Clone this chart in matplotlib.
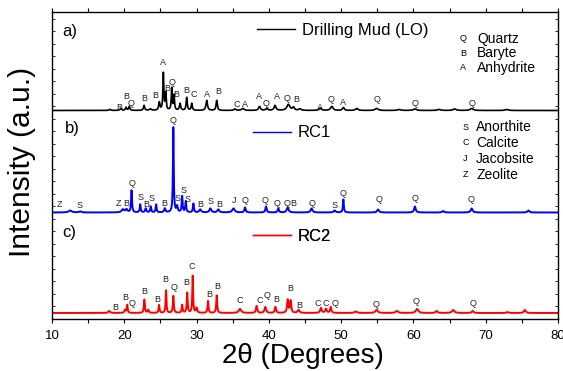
import numpy as np
import matplotlib
matplotlib.use('Agg')
import matplotlib.pyplot as plt
from matplotlib.ticker import MultipleLocator
from matplotlib.lines import Line2D

plt.rcParams['font.family'] = ['Liberation Sans', 'DejaVu Sans']

# peak lists: 2theta (deg), height, FWHM (deg)
mud_pos = [18.0, 19.5, 20.24, 20.69, 22.73, 23.6, 24.84, 25.40, 25.73, 26.56, 26.88, 27.71,
           28.63, 29.33, 31.40, 32.78, 35.3, 36.4, 38.7, 39.7, 40.85, 42.7, 43.4, 44.3,
           47.1, 48.7, 50.3, 52.15, 54.9, 58.0, 60.2, 63.5, 65.7, 68.05, 72.9]
mud_hgt = [1.0, 2.0, 3.0, 4.0, 5.0, 1.5, 8.0, 37.0, 17.0, 22.0, 15.0, 7.0,
           13.0, 7.0, 10.0, 10.0, 1.5, 2.0, 4.0, 2.0, 5.0, 6.0, 3.0, 1.5,
           2.0, 4.0, 3.0, 2.0, 2.0, 1.0, 1.5, 1.0, 1.5, 2.0, 1.0]
mud_wid = [0.3, 0.25, 0.2, 0.2, 0.2, 0.3, 0.2, 0.15, 0.15, 0.15, 0.15, 0.2,
           0.18, 0.18, 0.25, 0.2, 0.3, 0.4, 0.3, 0.3, 0.3, 0.5, 0.3, 0.4,
           0.4, 0.4, 0.3, 0.4, 0.5, 0.5, 0.5, 0.5, 0.5, 0.5, 0.5]

rc1_pos = [12.5, 13.9, 19.8, 20.3, 21.0, 22.2, 22.96, 23.65, 24.4, 25.6, 26.78, 27.3,
           28.0, 28.5, 29.55, 30.5, 31.9, 33.0, 35.1, 36.7, 39.6, 41.3, 42.6, 45.9,
           49.1, 50.3, 55.1, 60.2, 64.1, 68.05, 75.9]
rc1_hgt = [2.0, 1.0, 3.0, 3.0, 22.0, 8.0, 4.0, 6.0, 8.0, 4.0, 85.0, 6.0,
           16.0, 11.0, 9.0, 3.0, 4.0, 3.0, 4.0, 5.0, 6.0, 4.0, 5.0, 4.0,
           2.0, 13.0, 3.0, 6.0, 1.5, 4.0, 2.0]
rc1_wid = [0.5, 0.4, 0.4, 0.3, 0.15, 0.15, 0.2, 0.15, 0.15, 0.2, 0.13, 0.2,
           0.15, 0.15, 0.15, 0.3, 0.3, 0.3, 0.4, 0.2, 0.2, 0.2, 0.3, 0.3,
           0.3, 0.15, 0.3, 0.25, 0.3, 0.3, 0.3]

rc2_pos = [17.9, 20.1, 20.4, 22.77, 23.3, 24.8, 25.77, 26.78, 28.0, 28.7, 29.46, 30.0,
           31.58, 32.78, 36.0, 38.3, 39.5, 40.9, 42.6, 43.0, 44.1, 47.2, 47.9, 48.55,
           52.0, 54.9, 57.7, 60.5, 63.2, 65.5, 68.2, 73.0, 75.4]
rc2_hgt = [2.0, 3.0, 8.0, 13.5, 3.0, 8.0, 23.0, 17.0, 8.0, 20.0, 37.0, 5.0,
           12.0, 17.5, 4.0, 7.0, 6.0, 6.0, 13.0, 12.0, 3.0, 5.0, 4.0, 6.0,
           1.5, 3.0, 2.0, 4.0, 2.0, 3.0, 2.0, 1.0, 3.0]
rc2_wid = [0.3, 0.2, 0.15, 0.15, 0.2, 0.15, 0.13, 0.15, 0.15, 0.15, 0.13, 0.2,
           0.15, 0.15, 0.4, 0.2, 0.25, 0.2, 0.2, 0.2, 0.3, 0.25, 0.25, 0.2,
           0.4, 0.4, 0.4, 0.4, 0.3, 0.4, 0.3, 0.3, 0.3]

# vertical offsets of the stacked patterns
offsets = [208.5, 106.5, 6.0]

# phase letters: (letter, 2theta, height)
mud_labels = [('B', 19.27, 211.7), ('B', 20.24, 222.3), ('Q', 20.97, 215.7), ('B', 22.77, 220),
              ('B', 24.34, 223.3), ('A', 25.40, 256.7), ('B', 25.91, 230), ('Q', 26.64, 236.7),
              ('B', 27.25, 224), ('B', 28.63, 228.3), ('C', 29.55, 224), ('A', 31.48, 224.7),
              ('B', 33.0, 227.3), ('C', 35.55, 214), ('A', 36.70, 214), ('A', 38.63, 222.3),
              ('Q', 39.60, 215.7), ('A', 41.08, 222.3), ('Q', 42.47, 220), ('B', 43.85, 219.7),
              ('A', 47.07, 211.7), ('Q', 48.55, 219.7), ('A', 50.21, 216.3), ('Q', 54.92, 219),
              ('Q', 60.21, 215.7), ('Q', 68.06, 215.7)]
rc1_labels = [('Q', 26.78, 198), ('Z', 11.01, 114.7), ('S', 13.87, 113.7), ('Z', 19.17, 115),
              ('B', 20.24, 115), ('Q', 21.03, 135), ('S', 22.27, 121.3), ('B', 23.0, 114.7),
              ('S', 23.79, 120.7), ('B', 25.53, 115.7), ('S', 27.33, 120), ('S', 28.22, 128),
              ('S', 28.72, 119), ('B', 30.57, 114), ('S', 31.95, 117), ('B', 33.10, 114.7),
              ('J', 35.18, 118.3), ('Q', 36.74, 118.3), ('Q', 39.46, 118.3), ('Q', 41.17, 115.7),
              ('Q', 42.47, 115), ('B', 43.38, 115), ('Q', 45.92, 115.7), ('S', 49.15, 113),
              ('Q', 50.21, 125.7), ('Q', 55.28, 119), ('Q', 60.21, 120.7), ('Q', 67.92, 119)]
rc2_labels = [('B', 18.71, 11.7), ('B', 20.10, 21.7), ('Q', 21.03, 15.7), ('B', 22.77, 27.3),
              ('B', 24.57, 19), ('B', 25.73, 39), ('Q', 26.88, 31.7), ('B', 28.54, 36.3),
              ('C', 29.32, 52.3), ('B', 31.72, 24), ('B', 32.87, 32.3), ('C', 36.01, 18),
              ('C', 38.77, 18), ('Q', 39.78, 23), ('B', 41.08, 19), ('B', 42.92, 30.7),
              ('B', 44.21, 13), ('C', 46.70, 15.7), ('C', 47.90, 15.7), ('Q', 49.15, 15.7),
              ('Q', 54.82, 14), ('Q', 60.35, 17.3), ('Q', 68.20, 15)]

names = ['Drilling Mud (LO)', 'RC1', 'RC2']
colors = ['black', '#0000ff', '#ff0000']
panels = ['a)', 'b)', 'c)']
phases1 = [('Q', 'Quartz'), ('B', 'Baryte'), ('A', 'Anhydrite')]
phases2 = [('S', 'Anorthite'), ('C', 'Calcite'), ('J', 'Jacobsite'), ('Z', 'Zeolite')]

x = np.arange(10, 80.001, 0.02)


def pattern(pos, hgt, wid):
    y = np.zeros_like(x)
    for p, h, w in zip(pos, hgt, wid):
        y += h / (1 + ((x - p) / (w / 2)) ** 2)
    return y


fig = plt.figure(figsize=(5.63, 3.71), dpi=100)
ax = fig.add_axes([0.0924, 0.1402, 0.8988, 0.8275])

peaks = [(mud_pos, mud_hgt, mud_wid), (rc1_pos, rc1_hgt, rc1_wid), (rc2_pos, rc2_hgt, rc2_wid)]
lws = [1.2, 1.4, 1.4]
for (pos, hgt, wid), off, c, lw in zip(peaks, offsets, colors, lws):
    ax.plot(x, pattern(pos, hgt, wid) + off, color=c, lw=lw)

for labs in [mud_labels, rc1_labels, rc2_labels]:
    for s, px, py in labs:
        ax.text(px, py, s, fontsize=6.5, ha='center', va='center', color='#222222')

# trace legends
leg_anchor = [(0.405, 0.941), (0.397, 0.606), (0.397, 0.270)]
for name, c, anc in zip(names, colors, leg_anchor):
    leg = ax.legend(handles=[Line2D([], [], color=c, lw=1.0)], labels=[name],
                    loc='center left', bbox_to_anchor=anc, frameon=False,
                    fontsize=12, handlelength=2.3, handletextpad=0.4,
                    borderpad=0, borderaxespad=0)
    ax.add_artist(leg)

# panel tags
for tag, pos in zip(panels, [(0.020, 0.935), (0.025, 0.619), (0.021, 0.283)]):
    ax.text(pos[0], pos[1], tag, transform=ax.transAxes, fontsize=12, ha='left', va='center')

# phase keys
for i, (s, n) in enumerate(phases1):
    yy = 0.912 - i * 0.047
    ax.text(0.812, yy, s, transform=ax.transAxes, fontsize=6.5, ha='center', va='center')
    ax.text(0.840, yy, n, transform=ax.transAxes, fontsize=10, ha='left', va='center')
for i, (s, n) in enumerate(phases2):
    yy = 0.625 - i * 0.0515
    ax.text(0.817, yy, s, transform=ax.transAxes, fontsize=6.5, ha='center', va='center')
    ax.text(0.838, yy, n, transform=ax.transAxes, fontsize=10, ha='left', va='center')

ax.set_xlim(10, 80)
ax.set_ylim(0, 307)
ax.xaxis.set_major_locator(MultipleLocator(10))
ax.xaxis.set_minor_locator(MultipleLocator(5))
ax.yaxis.set_major_locator(MultipleLocator(12.5))
ax.tick_params(axis='x', which='both', direction='out', length=3, width=0.8,
               labelsize=9.5, pad=5)
ax.tick_params(axis='x', which='both', top=True, labeltop=False)
ax.tick_params(axis='y', which='both', direction='in', length=2.5, width=0.6,
               left=True, right=True, labelleft=False)
for sp in ax.spines.values():
    sp.set_linewidth(1.0)

fig.text(22 / 563, 1 - 162 / 371, 'Intensity (a.u.)', rotation=90, fontsize=21.5,
         ha='center', va='center')
fig.text(303 / 563, 1 - 356 / 371, '2θ (Degrees)', fontsize=20, ha='center', va='center')

fig.savefig('out.png', dpi=100)
